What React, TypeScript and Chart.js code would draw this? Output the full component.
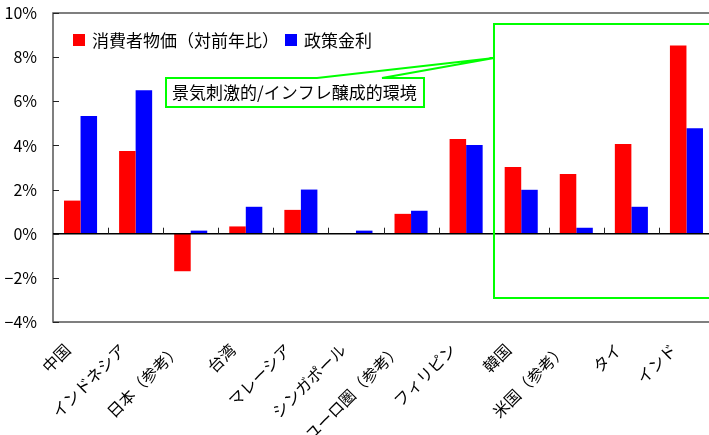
import React, { useEffect, useRef } from "react";
import { Chart, registerables } from "chart.js";

Chart.register(...registerables);

// ---- data ----
const categories = [
  "中国",
  "インドネシア",
  "日本（参考）",
  "台湾",
  "マレーシア",
  "シンガポール",
  "ユーロ圏（参考）",
  "フィリピン",
  "韓国",
  "米国（参考）",
  "タイ",
  "インド",
];
const cpiValues = [1.5, 3.75, -1.7, 0.33, 1.08, 0, 0.9, 4.29, 3.02, 2.7, 4.06, 8.53];
const policyRateValues = [5.33, 6.5, 0.14, 1.22, 2.0, 0.14, 1.04, 4.02, 1.99, 0.27, 1.22, 4.78];
const seriesLabels = ["消費者物価（対前年比）", "政策金利"];
const seriesColors = ["#FF0000", "#0000FF"];
const annotationText = "景気刺激的/インフレ醸成的環境";
const yMin = -4;
const yMax = 10;
const yStep = 2;

const FONT = '"Noto Sans CJK JP", "Noto Sans", sans-serif';

export default function App() {
  const ref = useRef<HTMLCanvasElement>(null);

  useEffect(() => {
    const canvas = ref.current!;
    const line = (ctx: CanvasRenderingContext2D, x1: number, y1: number, x2: number, y2: number) => {
      ctx.beginPath();
      ctx.moveTo(x1, y1);
      ctx.lineTo(x2, y2);
      ctx.stroke();
    };

    const overlay = {
      id: "overlay",
      afterDraw(chart: any) {
        const ctx: CanvasRenderingContext2D = chart.ctx;
        const a = chart.chartArea;
        const xs = chart.scales.x;
        const ys = chart.scales.y;
        ctx.save();

        // frame
        ctx.strokeStyle = "#555";
        ctx.lineWidth = 1.5;
        ctx.strokeRect(a.left, a.top, a.right - a.left, a.bottom - a.top);

        // zero line
        const y0 = ys.getPixelForValue(0);
        ctx.strokeStyle = "#000";
        ctx.lineWidth = 1.5;
        line(ctx, a.left, y0, a.right, y0);

        // y ticks (inside)
        ctx.lineWidth = 1;
        ctx.strokeStyle = "#222";
        for (let v = yMin; v <= yMax; v += yStep) {
          const py = Math.round(ys.getPixelForValue(v)) + 0.5;
          line(ctx, a.left, py, a.left + 6, py);
        }
        // x ticks at category boundaries (above zero line)
        for (let i = 1; i < categories.length; i++) {
          const px = Math.round((xs.getPixelForValue(i - 1) + xs.getPixelForValue(i)) / 2) + 0.5;
          line(ctx, px, y0, px, y0 - 6);
        }

        // legend
        ctx.font = `17px ${FONT}`;
        ctx.textBaseline = "middle";
        ctx.textAlign = "left";
        const ly = 40;
        const legendX = [73, 285];
        chart.data.datasets.forEach((ds: any, i: number) => {
          ctx.fillStyle = ds.backgroundColor;
          ctx.fillRect(legendX[i], ly - 6, 12, 12);
          ctx.fillStyle = "#000";
          ctx.fillText(ds.label, legendX[i] + 19, ly + 1);
        });

        // annotation: big green box
        ctx.strokeStyle = "#00FF00";
        ctx.lineWidth = 2;
        ctx.strokeRect(494, 24, 300, 274);

        // callout
        ctx.beginPath();
        ctx.moveTo(166, 78);
        ctx.lineTo(317, 78);
        ctx.lineTo(494, 58);
        ctx.lineTo(382, 78);
        ctx.lineTo(424, 78);
        ctx.lineTo(424, 107);
        ctx.lineTo(166, 107);
        ctx.closePath();
        ctx.stroke();
        ctx.fillStyle = "#000";
        ctx.font = `17px ${FONT}`;
        ctx.fillText(annotationText, 172, 93);

        ctx.restore();
      },
    };

    const chart = new Chart(canvas, {
      type: "bar",
      data: {
        labels: categories,
        datasets: [
          {
            label: seriesLabels[0],
            data: cpiValues,
            backgroundColor: seriesColors[0],
            categoryPercentage: 0.6,
            barPercentage: 1.0,
          },
          {
            label: seriesLabels[1],
            data: policyRateValues,
            backgroundColor: seriesColors[1],
            categoryPercentage: 0.6,
            barPercentage: 1.0,
          },
        ],
      },
      options: {
        responsive: false,
        animation: false,
        devicePixelRatio: 1,
        layout: { padding: { top: 13, right: 2, left: 0, bottom: 0 } },
        plugins: {
          legend: { display: false },
          tooltip: { enabled: false },
        },
        scales: {
          x: {
            grid: { display: false, drawTicks: false },
            border: { display: false },
            ticks: {
              autoSkip: false,
              minRotation: 45,
              maxRotation: 45,
              color: "#000",
              font: { family: FONT, size: 16 },
              padding: 18,
              labelOffset: -13,
            },
            afterFit(scale: any) {
              scale.height = 113;
              scale.paddingLeft = 0;
              scale.paddingRight = 0;
            },
          },
          y: {
            min: yMin,
            max: yMax,
            grid: { display: false, drawTicks: false },
            border: { display: false },
            ticks: {
              stepSize: yStep,
              color: "#000",
              font: { family: FONT, size: 16 },
              padding: 16,
              callback: (v: any) => `${Number(v) < 0 ? "\u2212" + Math.abs(Number(v)) : v}%`,
            },
            afterFit(scale: any) {
              scale.width = 53;
              scale.paddingTop = 0;
              scale.paddingBottom = 0;
            },
          },
        },
      },
      plugins: [overlay],
    });
    return () => chart.destroy();
  }, []);

  return (
    <div
      style={{
        position: "fixed",
        left: 0,
        top: 0,
        width: 709,
        height: 435,
        overflow: "hidden",
        background: "#fff",
      }}
    >
      <canvas ref={ref} width={716} height={435} style={{ display: "block" }} />
    </div>
  );
}
